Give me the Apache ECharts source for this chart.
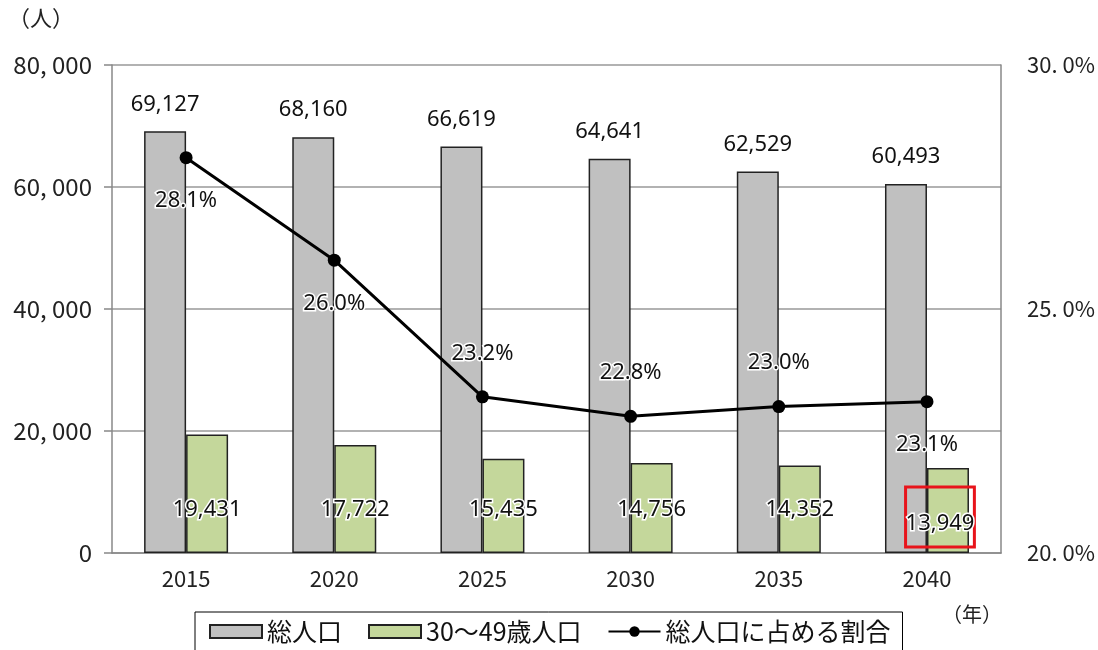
<!DOCTYPE html>
<html>
<head>
<meta charset="utf-8">
<script src="https://cdn.jsdelivr.net/npm/echarts@6/dist/echarts.min.js"></script>
<style>
  html, body { margin: 0; padding: 0; background: #fff; }
  #chart { width: 1098px; height: 650px; }
</style>
</head>
<body>
<div id="chart"></div>
<script>
// 年次
const years = ['2015', '2020', '2025', '2030', '2035', '2040']
// 総人口
const totalPop = [69127, 68160, 66619, 64641, 62529, 60493]
// 30～49歳人口
const agePop = [19431, 17722, 15435, 14756, 14352, 13949]
// 総人口に占める割合 (%)
const ratio = [28.1, 26.0, 23.2, 22.8, 23.0, 23.1]
// ラベル位置 (割合)
const ratioLabelPos = ['bottom', 'bottom', 'top', 'top', 'top', 'bottom']

const jpFont = '"Noto Sans CJK JP", "Noto Sans", sans-serif'
const numFont = '"Noto Sans", "Noto Sans CJK JP", sans-serif'

const chart = echarts.init(document.getElementById('chart'))

const fmtLeft = (v) => {
    if (v === 0) return '0'
    return String(v).replace(/\B(?=(\d{3})+(?!\d))/g, ', ')
}
const fmtRight = (v) => v.toFixed(1).replace('.', '. ') + '%'
const fmtNum = (v) => String(v).replace(/\B(?=(\d{3})+(?!\d))/g, ',')

let option = {
    animation: false,
    textStyle: { fontFamily: jpFont },
    grid: { left: 112, right: 95, top: 65, bottom: 97 },
    legend: {
        top: 612,
        left: 195,
        padding: [7, 12, 12, 14],
        borderColor: '#000',
        borderWidth: 1,
        itemGap: 26,
        itemWidth: 52,
        itemHeight: 13,
        textStyle: { fontSize: 25, color: '#111', fontFamily: jpFont },
        data: [
            { name: '総人口', icon: 'rect' },
            { name: '30～49歳人口', icon: 'rect' },
            { name: '総人口に占める割合' }
        ]
    },
    graphic: [
        { type: 'text', left: 8, top: 7, style: { text: '（人）', fontSize: 22, fill: '#222', fontFamily: jpFont } },
        { type: 'text', left: 942, top: 604, style: { text: '（年）', fontSize: 20, fill: '#222', fontFamily: jpFont } }
    ],
    xAxis: {
        type: 'category',
        data: years,
        axisLine: { lineStyle: { color: '#888', width: 1.5 } },
        axisTick: { show: false },
        axisLabel: { fontSize: 22, color: '#222', margin: 15, fontFamily: jpFont }
    },
    yAxis: [
        {
            type: 'value',
            min: 0,
            max: 80000,
            interval: 20000,
            axisLine: { show: true, lineStyle: { color: '#888', width: 1.5 } },
            axisTick: { show: true, length: 8, lineStyle: { color: '#888', width: 1.5 } },
            axisLabel: { formatter: fmtLeft, fontSize: 24, color: '#222', margin: 20, fontFamily: jpFont },
            splitLine: { lineStyle: { color: '#999', width: 1.5 } }
        },
        {
            type: 'value',
            min: 20,
            max: 30,
            interval: 5,
            position: 'right',
            axisLine: { show: true, lineStyle: { color: '#888', width: 1.5 } },
            axisTick: { show: false },
            axisLabel: { formatter: fmtRight, fontSize: 22, color: '#222', margin: 26, fontFamily: jpFont },
            splitLine: { show: false }
        }
    ],
    series: [
        {
            name: '総人口',
            type: 'bar',
            barWidth: 42,
            barGap: '0%',
            itemStyle: { color: '#c0c0c0', borderColor: '#222', borderWidth: 1.5 },
            label: {
                show: true,
                position: 'top',
                distance: 16,
                formatter: (p) => fmtNum(p.value),
                fontSize: 22,
                color: '#111',
                fontFamily: numFont
            },
            data: totalPop
        },
        {
            name: '30～49歳人口',
            type: 'bar',
            barWidth: 42,
            barGap: '0%',
            itemStyle: { color: '#c4d79b', borderColor: '#222', borderWidth: 1.5 },
            label: {
                show: true,
                position: 'insideBottom',
                distance: 32,
                formatter: (p) => fmtNum(p.value),
                fontSize: 22,
                color: '#111',
                fontFamily: numFont,
                textBorderColor: '#fff',
                textBorderWidth: 3
            },
            data: agePop.map((v, i) => {
                if (i === agePop.length - 1) {
                    return {
                        value: v,
                        label: {
                            borderColor: '#e8141b',
                            borderWidth: 3,
                            padding: [26, 0, 12, 0],
                            distance: 6,
                            offset: [-8, 0]
                        }
                    }
                }
                return v
            })
        },
        {
            name: '総人口に占める割合',
            type: 'line',
            yAxisIndex: 1,
            symbol: 'circle',
            symbolSize: 13,
            lineStyle: { color: '#000', width: 3 },
            itemStyle: { color: '#000' },
            label: {
                show: true,
                formatter: (p) => p.value.toFixed(1) + '%',
                fontSize: 22,
                color: '#111',
                fontFamily: numFont,
                distance: 26,
                textBorderColor: '#fff',
                textBorderWidth: 3
            },
            data: ratio.map((v, i) => ({ value: v, label: { position: ratioLabelPos[i] } }))
        }
    ]
}
chart.setOption(option)
</script>
</body>
</html>
